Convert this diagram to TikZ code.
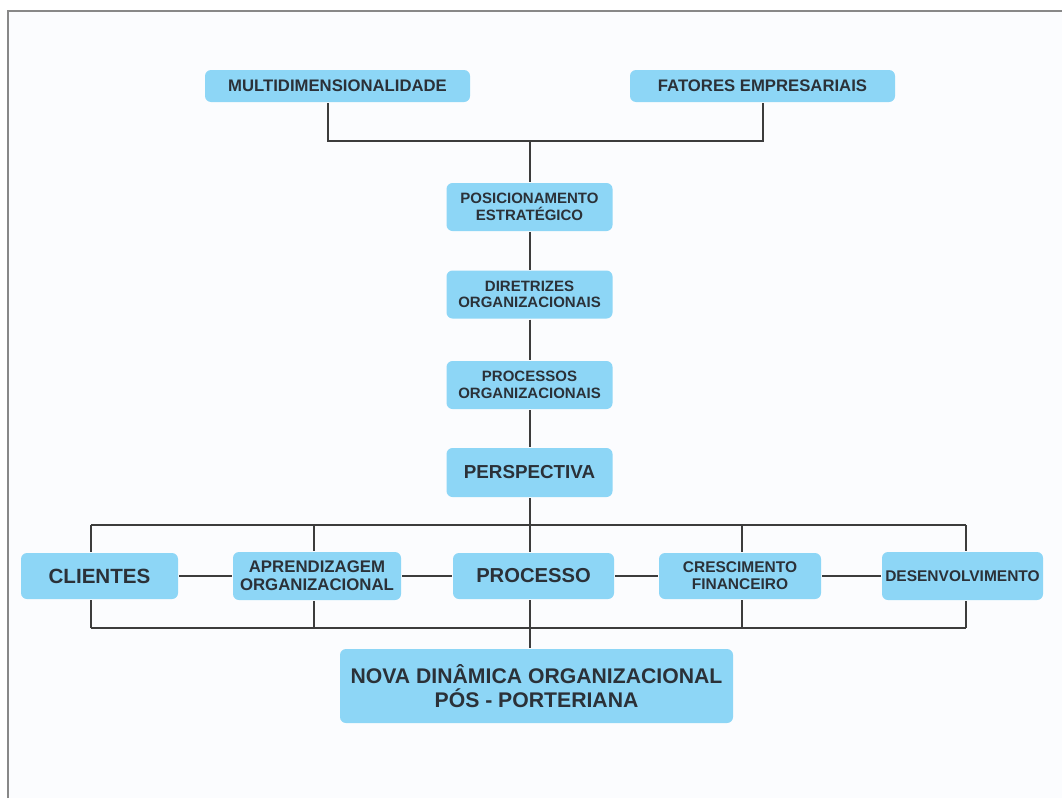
\documentclass[tikz,border=0pt]{standalone}
\usepackage{fontspec}
\setmainfont{Liberation Sans}
\usepackage{tikz}
\usetikzlibrary{positioning}

\definecolor{boxblue}{RGB}{141,214,246}
\definecolor{boxtext}{RGB}{43,49,56}
\definecolor{linegray}{RGB}{60,60,60}
\definecolor{framegray}{RGB}{136,136,136}
\definecolor{paper}{RGB}{251,252,254}

\begin{document}
\begin{tikzpicture}[x=1pt,y=-1pt,line width=2pt,draw=linegray,
    base box/.style={rectangle,rounded corners=6pt,fill=boxblue,text=boxtext,inner sep=0pt,align=center,font=\bfseries},
    top box/.style={base box,minimum width=265pt,minimum height=32pt,font=\bfseries\fontsize{16.7}{19}\selectfont},
    small box/.style={base box,minimum width=166pt,minimum height=48pt,font=\bfseries\fontsize{15}{16.5}\selectfont},
    row box/.style={base box,minimum height=46pt,font=\bfseries\fontsize{15.5}{17}\selectfont},
    big box/.style={base box,minimum height=46pt,font=\bfseries\fontsize{20.2}{22}\selectfont}
    ]

  \useasboundingbox (0,0) rectangle (1062,798);
  \fill[white] (0,0) rectangle (1062,798);
  \fill[paper] (8,11) rectangle (1062,798);
  \draw[framegray,line width=1.5pt] (8,798) -- (8,11) -- (1062,11);

  % upper part
  \node[top box]   (multi)   at (337.5,86) {MULTIDIMENSIONALIDADE};
  \node[top box]   (fatores) at (762.5,86) {FATORES EMPRESARIAIS};
  \node[small box] (posic)   at (529.5,207) {POSICIONAMENTO\\ESTRAT\'EGICO};
  \node[small box] (diret)   at (529.5,294.5) {DIRETRIZES\\ORGANIZACIONAIS};
  \node[small box] (procorg) at (529.5,385) {PROCESSOS\\ORGANIZACIONAIS};
  \node[small box,minimum height=49pt,font=\bfseries\fontsize{18.8}{21}\selectfont]
                   (persp)   at (529.5,472.5) {PERSPECTIVA};

  % lower row
  \node[big box,minimum width=157pt,font=\bfseries\fontsize{20.6}{22}\selectfont]
                                      (clientes) at (99.5,576) {CLIENTES};
  \node[row box,minimum width=168pt,minimum height=48pt,font=\bfseries\fontsize{16.8}{18}\selectfont]
                                      (aprend)   at (317,576) {APRENDIZAGEM\\ORGANIZACIONAL};
  \node[big box,minimum width=161pt]  (proc)     at (533.5,576) {PROCESSO};
  \node[row box,minimum width=162pt]  (cresc)    at (740,576) {CRESCIMENTO\\FINANCEIRO};
  \node[row box,minimum width=161pt,minimum height=48pt] (desenv) at (962.5,576) {DESENVOLVIMENTO};
  \node[base box,minimum width=393pt,minimum height=74pt,font=\bfseries\fontsize{21.2}{23.5}\selectfont]
                   (nova)    at (536.5,686) {NOVA DIN\^AMICA ORGANIZACIONAL\\P\'OS - PORTERIANA};

  \coordinate (jl)   at (328,141);
  \coordinate (jr)   at (762.5,141);
  \coordinate (jtop) at (529.5,141);
  \coordinate (ctop) at (529.5,525);
  \coordinate (cbot) at (529.5,628);
  \coordinate (tl) at (91,525);   \coordinate (bl) at (91,628);
  \coordinate (t2) at (314,525);  \coordinate (b2) at (314,628);
  \coordinate (t4) at (742,525);  \coordinate (b4) at (742,628);
  \coordinate (tr) at (966,525);  \coordinate (br) at (966,628);

  \draw (jl |- multi.south) -- (jl) -- (jr) -- (jr |- fatores.south);
  \draw (jtop) -- (posic);
  \path (posic) edge (diret)
        (diret) edge (procorg)
        (procorg) edge (persp);

  \draw (tl) -- (tr);
  \draw (bl) -- (br);
  \draw (ctop |- persp.south) -- (ctop |- proc.north);
  \draw (cbot |- proc.south) -- (cbot |- nova.north);
  \draw (tl) -- (tl |- clientes.north)  (bl) -- (bl |- clientes.south);
  \draw (t2) -- (t2 |- aprend.north)    (b2) -- (b2 |- aprend.south);
  \draw (t4) -- (t4 |- cresc.north)     (b4) -- (b4 |- cresc.south);
  \draw (tr) -- (tr |- desenv.north)    (br) -- (br |- desenv.south);

  \path (clientes) edge (aprend)
        (aprend)   edge (proc)
        (proc)     edge (cresc)
        (cresc)    edge (desenv);

\end{tikzpicture}
\end{document}
